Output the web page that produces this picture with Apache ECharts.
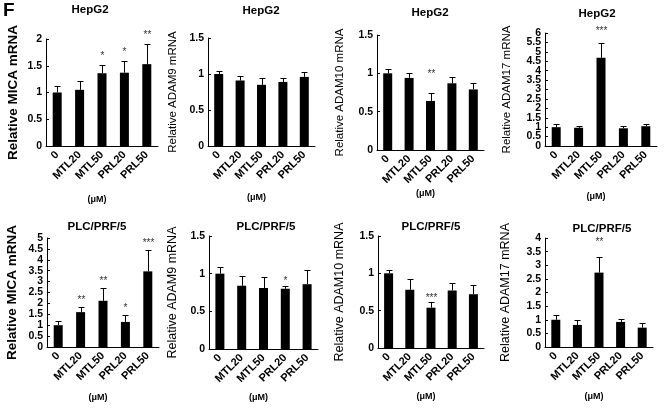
<!DOCTYPE html>
<html>
<head>
<meta charset="utf-8">
<script src="https://cdn.jsdelivr.net/npm/echarts@6/dist/echarts.min.js"></script>
<style>
  html, body { margin: 0; padding: 0; background: #fff; }
  #chart { width: 668px; height: 408px; }
</style>
</head>
<body>
<div id="chart"></div>
<script>
const categories = ['0', 'MTL20', 'MTL50', 'PRL20', 'PRL50']

// HepG2 row
const hepMicaMean = [1.0, 1.05, 1.36, 1.37, 1.53]
const hepMicaErr = [0.13, 0.17, 0.15, 0.21, 0.37]
const hepMicaSig = ['', '', '*', '*', '**']

const hepAdam9Mean = [1.0, 0.91, 0.85, 0.89, 0.96]
const hepAdam9Err = [0.04, 0.06, 0.10, 0.05, 0.07]
const hepAdam9Sig = ['', '', '', '', '']

const hepAdam10Mean = [1.0, 0.94, 0.64, 0.87, 0.79]
const hepAdam10Err = [0.06, 0.06, 0.11, 0.08, 0.08]
const hepAdam10Sig = ['', '', '**', '', '']

const hepAdam17Mean = [1.0, 0.97, 4.68, 0.94, 1.05]
const hepAdam17Err = [0.15, 0.11, 0.80, 0.12, 0.13]
const hepAdam17Sig = ['', '', '***', '', '']
// dense axis, echarts drops labels next to min/max, so these are drawn on an overlay axis
const hepAdam17Ticks = ['0', '0.5', '1', '1.5', '2', '2.5', '3', '3.5', '4', '4.5', '5', '5.5', '6']

// PLC/PRF/5 row
const plcMicaMean = [1.0, 1.6, 2.12, 1.15, 3.47]
const plcMicaErr = [0.18, 0.25, 0.6, 0.33, 1.0]
const plcMicaSig = ['', '**', '**', '*', '***']

const plcAdam9Mean = [1.0, 0.84, 0.81, 0.80, 0.86]
const plcAdam9Err = [0.09, 0.13, 0.14, 0.04, 0.19]
const plcAdam9Sig = ['', '', '', '*', '']

const plcAdam10Mean = [1.0, 0.78, 0.54, 0.77, 0.72]
const plcAdam10Err = [0.05, 0.15, 0.08, 0.10, 0.13]
const plcAdam10Sig = ['', '', '***', '', '']

const plcAdam17Mean = [1.0, 0.81, 2.73, 0.92, 0.71]
const plcAdam17Err = [0.17, 0.18, 0.56, 0.10, 0.18]
const plcAdam17Sig = ['', '', '**', '', '']

const FONT = '"Liberation Sans", Arial, sans-serif'

// layout per panel (pixels)
const panels = [
  { title: 'HepG2', yName: 'Relative MICA mRNA', max: 2, interval: 0.5,
    mean: hepMicaMean, err: hepMicaErr, sig: hepMicaSig,
    grid: { left: 46, top: 39, width: 112, height: 107 }, tx: 90, ty: 4, yGap: 26, xGap: 49, starGap: 12, big: true },
  { title: 'HepG2', yName: 'Relative ADAM9 mRNA', max: 1.5, interval: 0.5,
    mean: hepAdam9Mean, err: hepAdam9Err, sig: hepAdam9Sig,
    grid: { left: 208, top: 38, width: 107, height: 108 }, tx: 261, ty: 5, yGap: 29, xGap: 47, starGap: 12 },
  { title: 'HepG2', yName: 'Relative ADAM10 mRNA', max: 1.5, interval: 0.5,
    mean: hepAdam10Mean, err: hepAdam10Err, sig: hepAdam10Sig,
    grid: { left: 377, top: 35, width: 107, height: 115 }, tx: 430, ty: 7, yGap: 31, xGap: 38, starGap: 22 },
  { title: 'HepG2', yName: 'Relative ADAM17 mRNA', max: 6, interval: 0.5, ticks: hepAdam17Ticks,
    mean: hepAdam17Mean, err: hepAdam17Err, sig: hepAdam17Sig,
    grid: { left: 545, top: 33, width: 112, height: 113 }, tx: 597, ty: 8, yGap: 32, xGap: 46, starGap: 15 },
  { title: 'PLC/PRF/5', yName: 'Relative MICA mRNA', max: 5, interval: 0.5,
    mean: plcMicaMean, err: plcMicaErr, sig: plcMicaSig,
    grid: { left: 47, top: 238, width: 112, height: 109 }, tx: 97, ty: 221, yGap: 28, xGap: 46, starGap: 10, big: true },
  { title: 'PLC/PRF/5', yName: 'Relative ADAM9 mRNA', max: 1.5, interval: 0.5,
    mean: plcAdam9Mean, err: plcAdam9Err, sig: plcAdam9Sig,
    grid: { left: 209, top: 236, width: 109, height: 113 }, tx: 266, ty: 221, yGap: 30, xGap: 44, starGap: 8 },
  { title: 'PLC/PRF/5', yName: 'Relative ADAM10 mRNA', max: 1.5, interval: 0.5,
    mean: plcAdam10Mean, err: plcAdam10Err, sig: plcAdam10Sig,
    grid: { left: 378, top: 236, width: 106, height: 112 }, tx: 431, ty: 221, yGap: 32, xGap: 44, starGap: 7 },
  { title: 'PLC/PRF/5', yName: 'Relative ADAM17 mRNA', max: 4, interval: 0.5,
    mean: plcAdam17Mean, err: plcAdam17Err, sig: plcAdam17Sig,
    grid: { left: 545, top: 238, width: 108, height: 109 }, tx: 602, ty: 223, yGap: 33, xGap: 45, starGap: 18 }
]

const chart = echarts.init(document.getElementById('chart'), null, { renderer: 'canvas' })

const grids = [], xAxes = [], yAxes = [], titles = [], series = []
const overlayAxes = []

const tickLabelStyle = { fontFamily: FONT, fontSize: 10.5, fontWeight: 'bold', color: '#000' }

panels.forEach((p, i) => {
  grids.push(Object.assign({ containLabel: false }, p.grid))
  titles.push({
    text: p.title,
    left: p.tx,
    top: p.ty,
    textAlign: 'center',
    padding: 0,
    textStyle: { fontFamily: FONT, fontSize: 11.5, fontWeight: 'bold', color: '#000' }
  })
  xAxes.push({
    type: 'category',
    gridIndex: i,
    data: categories,
    name: '(μM)',
    nameLocation: 'middle',
    nameGap: p.xGap,
    nameTextStyle: { fontFamily: FONT, fontSize: 9, fontWeight: 'bold', color: '#000', padding: [0, 10, 0, 0] },
    axisLine: { lineStyle: { color: '#000', width: 1 } },
    axisTick: { inside: true, length: 3, lineStyle: { color: '#000' } },
    axisLabel: { interval: 0, rotate: 45, margin: 7, fontFamily: FONT, fontSize: 11, fontWeight: 'bold', color: '#000' }
  })
  yAxes.push({
    type: 'value',
    gridIndex: i,
    min: 0,
    max: p.max,
    interval: p.interval,
    name: p.yName,
    nameLocation: 'middle',
    nameRotate: 90,
    nameGap: p.yGap,
    nameTextStyle: p.big
      ? { fontFamily: FONT, fontSize: 13.5, fontWeight: 'bold', color: '#000' }
      : { fontFamily: FONT, fontSize: i < 4 ? 11.5 : 12.5, color: '#000' },
    splitLine: { show: false },
    axisLine: { show: true, lineStyle: { color: '#000', width: 1 } },
    axisTick: { show: true, inside: true, length: 3, lineStyle: { color: '#000' } },
    axisLabel: Object.assign({ show: !p.ticks, margin: 4, showMinLabel: true, showMaxLabel: true }, tickLabelStyle)
  })
  if (p.ticks) {
    overlayAxes.push({
      type: 'category',
      gridIndex: i,
      position: 'left',
      boundaryGap: false,
      data: p.ticks,
      axisLine: { show: false },
      axisTick: { show: false },
      splitLine: { show: false },
      axisLabel: Object.assign({ interval: 0, margin: 4 }, tickLabelStyle)
    })
  }
  series.push({
    type: 'bar',
    xAxisIndex: i,
    yAxisIndex: i,
    barWidth: 9,
    itemStyle: { color: '#000' },
    data: p.mean,
    silent: true
  })
  series.push({
    type: 'custom',
    xAxisIndex: i,
    yAxisIndex: i,
    z: 5,
    silent: true,
    data: p.mean.map((m, k) => [k, m, p.err[k]]),
    renderItem: function (params, api) {
      const k = api.value(0)
      const m = api.value(1)
      const e = api.value(2)
      const base = api.coord([k, m])
      const top = api.coord([k, m + e])
      const x = Math.round(base[0]) + 0.5
      const yt = Math.round(top[1]) + 0.5
      const children = [
        { type: 'line', shape: { x1: x, y1: base[1], x2: x, y2: yt }, style: { stroke: '#000', lineWidth: 1 } },
        { type: 'line', shape: { x1: x - 3, y1: yt, x2: x + 3, y2: yt }, style: { stroke: '#000', lineWidth: 1 } }
      ]
      const s = p.sig[params.dataIndex]
      if (s) {
        children.push({
          type: 'text',
          style: {
            text: s, x: x, y: yt - p.starGap + 3,
            align: 'center', verticalAlign: 'middle',
            fontFamily: FONT, fontSize: 10, fill: '#333'
          }
        })
      }
      return { type: 'group', children: children }
    }
  })
})

chart.setOption({
  animation: false,
  backgroundColor: '#fff',
  title: titles,
  grid: grids,
  xAxis: xAxes,
  yAxis: yAxes.concat(overlayAxes),
  series: series,
  graphic: [{
    type: 'text', left: 3, top: 1,
    style: { text: 'F', fontFamily: FONT, fontSize: 19, fontWeight: 'bold', fill: '#000' }
  }]
})
</script>
</body>
</html>
